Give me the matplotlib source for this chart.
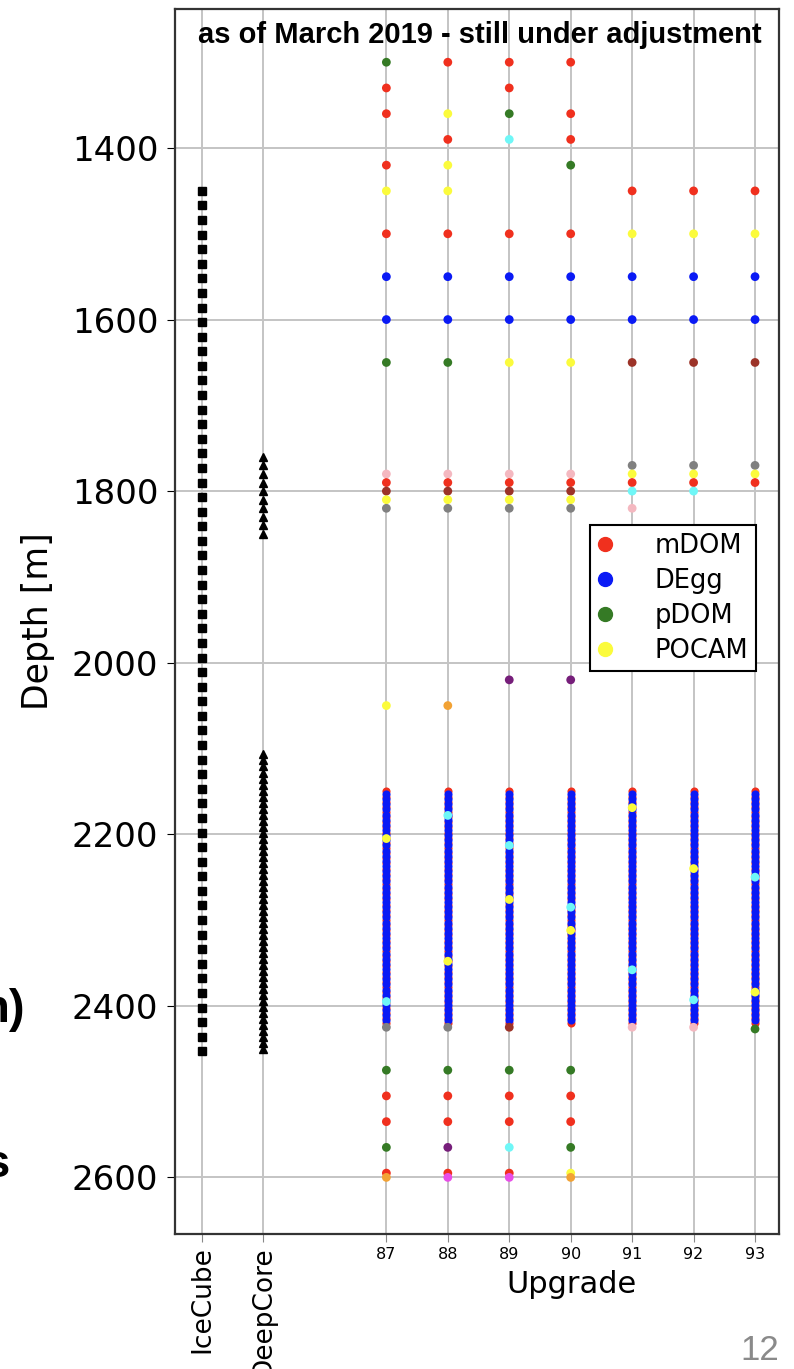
import matplotlib.pyplot as plt
from matplotlib.lines import Line2D

"""Data read off the reference"""
icecube_depth = [1450, 1467, 1484, 1501, 1518, 1535, 1552, 1569, 1586, 1603,
                 1620, 1637, 1654, 1671, 1688, 1705, 1722, 1739, 1756, 1773,
                 1790, 1807, 1824, 1841, 1858, 1875, 1892, 1909, 1926, 1943,
                 1960, 1977, 1994, 2011, 2028, 2045, 2062, 2079, 2096, 2113,
                 2130, 2147, 2164, 2181, 2198, 2215, 2232, 2249, 2266, 2283,
                 2300, 2317, 2334, 2351, 2368, 2385, 2402, 2419, 2436, 2453]
deepcore_upper_depth = [1760, 1770, 1780, 1790, 1800, 1810, 1820, 1830, 1840, 1850]
deepcore_lower_depth = [2107, 2114, 2121, 2128, 2135, 2142, 2149, 2156, 2163, 2170,
                        2177, 2184, 2191, 2198, 2205, 2212, 2219, 2226, 2233, 2240,
                        2247, 2254, 2261, 2268, 2275, 2282, 2289, 2296, 2303, 2310,
                        2317, 2324, 2331, 2338, 2345, 2352, 2359, 2366, 2373, 2380,
                        2387, 2394, 2401, 2408, 2415, 2422, 2429, 2436, 2443, 2450]

upgrade_strings = [87, 88, 89, 90, 91, 92, 93]

# dense section, same on every string
dense_mdom_depth = [2150, 2156, 2162, 2168, 2174, 2180, 2186, 2192, 2198, 2204,
                    2210, 2216, 2222, 2228, 2234, 2240, 2246, 2252, 2258, 2264,
                    2270, 2276, 2282, 2288, 2294, 2300, 2306, 2312, 2318, 2324,
                    2330, 2336, 2342, 2348, 2354, 2360, 2366, 2372, 2378, 2384,
                    2390, 2396, 2402, 2408, 2414, 2420]
dense_degg_depth = [2153, 2159, 2165, 2171, 2177, 2183, 2189, 2195, 2201, 2207,
                    2213, 2219, 2225, 2231, 2237, 2243, 2249, 2255, 2261, 2267,
                    2273, 2279, 2285, 2291, 2297, 2303, 2309, 2315, 2321, 2327,
                    2333, 2339, 2345, 2351, 2357, 2363, 2369, 2375, 2381, 2387,
                    2393, 2399, 2405, 2411, 2417]

# remaining modules per string
s87_depth = [1300, 1330, 1360, 1420, 1450, 1500, 1550, 1600, 1650, 1780, 1790, 1800,
             1810, 1820, 2050, 2205, 2395, 2425, 2475, 2505, 2535, 2565, 2595, 2600]
s87_type = ['pDOM', 'mDOM', 'mDOM', 'mDOM', 'POCAM', 'mDOM', 'DEgg', 'DEgg', 'pDOM',
            'pink', 'mDOM', 'brown', 'POCAM', 'gray', 'POCAM', 'POCAM', 'cyan', 'gray',
            'pDOM', 'mDOM', 'mDOM', 'pDOM', 'mDOM', 'orange']
s88_depth = [1300, 1360, 1390, 1420, 1450, 1500, 1550, 1600, 1650, 1780, 1790, 1800,
             1810, 1820, 2050, 2178, 2348, 2425, 2475, 2505, 2535, 2565, 2595, 2600]
s88_type = ['mDOM', 'POCAM', 'mDOM', 'POCAM', 'POCAM', 'mDOM', 'DEgg', 'DEgg', 'pDOM',
            'pink', 'mDOM', 'brown', 'POCAM', 'gray', 'orange', 'cyan', 'POCAM', 'gray',
            'pDOM', 'mDOM', 'mDOM', 'purple', 'mDOM', 'magenta']
s89_depth = [1300, 1330, 1360, 1390, 1500, 1550, 1600, 1650, 1780, 1790, 1800, 1810,
             1820, 2020, 2213, 2276, 2425, 2475, 2505, 2535, 2565, 2595, 2600]
s89_type = ['mDOM', 'mDOM', 'pDOM', 'cyan', 'mDOM', 'DEgg', 'DEgg', 'POCAM', 'pink',
            'mDOM', 'brown', 'POCAM', 'gray', 'purple', 'cyan', 'POCAM', 'brown',
            'pDOM', 'mDOM', 'mDOM', 'cyan', 'mDOM', 'magenta']
s90_depth = [1300, 1360, 1390, 1420, 1500, 1550, 1600, 1650, 1780, 1790, 1800, 1810,
             1820, 2020, 2285, 2312, 2475, 2505, 2535, 2565, 2595, 2600]
s90_type = ['mDOM', 'mDOM', 'mDOM', 'pDOM', 'mDOM', 'DEgg', 'DEgg', 'POCAM', 'pink',
            'mDOM', 'brown', 'POCAM', 'gray', 'purple', 'cyan', 'POCAM',
            'pDOM', 'mDOM', 'mDOM', 'pDOM', 'POCAM', 'orange']
s91_depth = [1450, 1500, 1550, 1600, 1650, 1770, 1780, 1790, 1800, 1820, 2169, 2358, 2425]
s91_type = ['mDOM', 'POCAM', 'DEgg', 'DEgg', 'brown', 'gray', 'POCAM', 'mDOM', 'cyan',
            'pink', 'POCAM', 'cyan', 'pink']
s92_depth = [1450, 1500, 1550, 1600, 1650, 1770, 1780, 1790, 1800, 2240, 2393, 2425]
s92_type = ['mDOM', 'POCAM', 'DEgg', 'DEgg', 'brown', 'gray', 'POCAM', 'mDOM', 'cyan',
            'POCAM', 'cyan', 'pink']
s93_depth = [1450, 1500, 1550, 1600, 1650, 1770, 1780, 1790, 2250, 2384, 2427]
s93_type = ['mDOM', 'POCAM', 'DEgg', 'DEgg', 'brown', 'gray', 'POCAM', 'mDOM', 'cyan',
            'POCAM', 'pDOM']

depth_ticks = [1400, 1600, 1800, 2000, 2200, 2400, 2600]
legend_types = ['mDOM', 'DEgg', 'pDOM', 'POCAM']

"""Styles"""
colors = {'mDOM': '#f0301e', 'DEgg': '#0a1af5', 'pDOM': '#357a25', 'POCAM': '#fbfb3c',
          'pink': '#f4b8c0', 'brown': '#9c3328', 'gray': '#808080', 'cyan': '#6ff7f7',
          'purple': '#761e7a', 'orange': '#f2a234', 'magenta': '#e84ee8'}
dot = 40

"""Plot"""
fig = plt.figure(figsize=(7.94, 13.69), dpi=100)
ax = fig.add_axes([0.2204, 0.0986, 0.7607, 0.8948])
ax.set_axisbelow(True)
ax.grid(color='#c4c4c4', lw=1.4)

ax.plot([84] * len(icecube_depth), icecube_depth, 's', color='k', ms=6, ls='none')
ax.plot([85] * len(deepcore_upper_depth), deepcore_upper_depth, '^', color='k', ms=5.5, ls='none')
ax.plot([85] * len(deepcore_lower_depth), deepcore_lower_depth, '^', color='k', ms=5.5, ls='none')

for s in upgrade_strings:
    ax.scatter([s] * len(dense_mdom_depth), dense_mdom_depth, s=dot * 0.85, c=colors['mDOM'], lw=0)
for s in upgrade_strings:
    ax.scatter([s] * len(dense_degg_depth), dense_degg_depth, s=dot * 0.85, c=colors['DEgg'], lw=0)

all_depth = [s87_depth, s88_depth, s89_depth, s90_depth, s91_depth, s92_depth, s93_depth]
all_type = [s87_type, s88_type, s89_type, s90_type, s91_type, s92_type, s93_type]
for s, d, t in zip(upgrade_strings, all_depth, all_type):
    ax.scatter([s] * len(d), d, s=dot, c=[colors[k] for k in t], lw=0, zorder=3)

ax.set_xlim(83.56, 93.39)
ax.set_ylim(2666, 1238)
ax.set_yticks(depth_ticks)
ax.set_xticks([84, 85] + upgrade_strings)
ax.set_xticklabels(['IceCube', 'DeepCore'] + [str(s) for s in upgrade_strings])
for i, lab in enumerate(ax.get_xticklabels()):
    if i < 2:
        lab.set_rotation(90)
        lab.set_fontsize(19)
    else:
        lab.set_fontsize(11.5)
ax.tick_params(axis='y', labelsize=24.5, length=6, pad=6)
ax.tick_params(axis='x', length=6, pad=3, color='#888888')
for sp in ax.spines.values():
    sp.set_linewidth(1.6)
    sp.set_color('#333333')

ax.set_ylabel('Depth [m]', fontsize=25)
ax.yaxis.set_label_coords(-0.199, 0.5)
ax.set_xlabel('Upgrade', fontsize=22)
ax.xaxis.set_label_coords(0.656, -0.029)

ax.text(0.505, 0.979, 'as of March 2019 - still under adjustment', transform=ax.transAxes,
        ha='center', va='center', fontsize=21, fontweight='bold', family='Liberation Sans')

handles = [Line2D([], [], marker='o', ls='none', color=colors[k], ms=10) for k in legend_types]
leg = ax.legend(handles, legend_types, loc='upper right', bbox_to_anchor=(0.962, 0.5788),
                borderaxespad=0, fontsize=18.5, fancybox=False, framealpha=1,
                edgecolor='k', handlelength=0.5, handletextpad=1.7,
                labelspacing=0.35, borderpad=0.3)
leg.get_frame().set_linewidth(1.5)

# leftover slide text
fig.text(25 / 794, 1 - 1022 / 1369, 'n)', ha='right', va='baseline', fontsize=34,
         fontweight='bold', family='Liberation Sans')
fig.text(10 / 794, 1 - 1177 / 1369, 's', ha='right', va='baseline', fontsize=34,
         fontweight='bold', family='Liberation Sans')
fig.text(779 / 794, 1 - 1360 / 1369, '12', ha='right', va='baseline', fontsize=25,
         color='#8a8a8a', family='Liberation Sans')

plt.savefig('out.png', dpi=100)
